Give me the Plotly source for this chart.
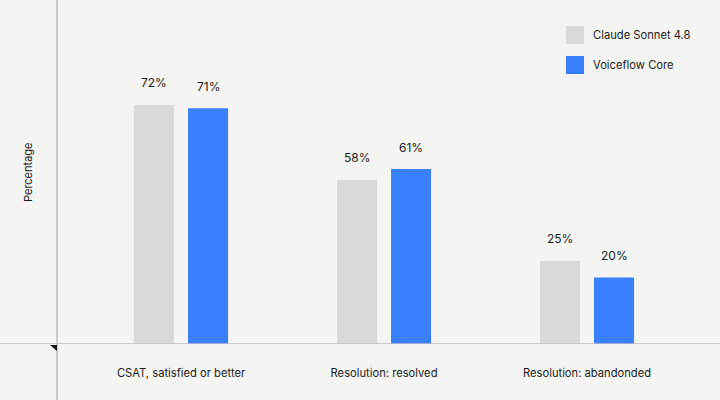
import plotly.graph_objects as go

categories = ["CSAT, satisfied or better", "Resolution: resolved", "Resolution: abandonded"]
series_names = ["Claude Sonnet 4.8", "Voiceflow Core"]
claude_values = [72, 49.4, 25]
voiceflow_values = [71, 52.7, 20]
claude_labels = ["72%", "58%", "25%"]
voiceflow_labels = ["71%", "61%", "20%"]

BG = "#f4f4f2"
GRAY = "#d9d9d9"
BLUE = "#3a7ffd"
LINE = "#bdbdbd"
TEXT = "#1c1c1c"
FONT = "Inter"

W, H = 720, 400
ML, MR, MT, MB = 57, 0, 0, 56
PW, PH = W - ML - MR, H - MT - MB

fig = go.Figure()
series = [(series_names[0], claude_values, claude_labels, GRAY),
          (series_names[1], voiceflow_values, voiceflow_labels, BLUE)]
for name, vals, labs, col in series:
    fig.add_trace(go.Bar(x=categories, y=vals, name=name, marker_color=col,
                         marker_line_width=0, showlegend=False, hoverinfo="skip"))

annotations = []
for (name, vals, labs, col), shift in zip(series, (-27, 27)):
    for c, v, t in zip(categories, vals, labs):
        annotations.append(dict(x=c, y=v, xref="x", yref="y", text=t, showarrow=False,
                                xshift=shift, yshift=22, yanchor="middle",
                                font=dict(family=FONT, size=12, color=TEXT)))
annotations.append(dict(x=-29 / PW, y=0.5, xref="paper", yref="paper", text="Percentage",
                        showarrow=False, textangle=-90, xanchor="center", yanchor="middle",
                        font=dict(family=FONT, size=11, color=TEXT)))

shapes = [
    dict(type="line", xref="paper", yref="y", x0=-ML / PW, x1=1, y0=0, y1=0,
         line=dict(color=LINE, width=1.5), layer="above"),
    dict(type="line", xref="paper", yref="paper", x0=0, x1=0, y0=-MB / PH, y1=1,
         line=dict(color=LINE, width=1.5), layer="above"),
    dict(type="path", xref="paper", yref="paper",
         path=f"M {-7/PW},{-1/PH} L 0,{-1/PH} L 0,{-7/PH} Z",
         fillcolor="#111111", line=dict(width=0), layer="above"),
]

# manual legend (18px swatches, 30px row spacing)
for i, (name, vals, labs, col) in enumerate(series):
    top = 26 + 30 * i
    shapes.append(dict(type="rect", xref="paper", yref="paper",
                       x0=(566 - ML) / PW, x1=(584 - ML) / PW,
                       y0=1 - (top + 18) / PH, y1=1 - top / PH,
                       fillcolor=col, line=dict(width=0)))
    annotations.append(dict(x=(591 - ML) / PW, y=1 - (top + 9) / PH, xref="paper", yref="paper",
                            text=name, showarrow=False, xanchor="left", yanchor="middle",
                            font=dict(family=FONT, size=11.2, color=TEXT)))

fig.update_layout(
    width=W, height=H,
    margin=dict(l=ML, r=MR, t=MT, b=MB),
    paper_bgcolor=BG, plot_bgcolor=BG,
    barmode="group", bargap=0.468, bargroupgap=0.259,
    font=dict(family=FONT, size=12, color=TEXT),
    showlegend=False,
    xaxis=dict(range=[-0.611, 2.655], showgrid=False, zeroline=False, showline=False,
               ticks="outside", ticklen=19, tickcolor="rgba(0,0,0,0)",
               tickfont=dict(family=FONT, size=11.2, color=TEXT)),
    yaxis=dict(range=[0, 103.6], showgrid=False, zeroline=False, showline=False,
               showticklabels=False),
    annotations=annotations,
    shapes=shapes,
)

fig.write_html("out.html", config={"displayModeBar": False},
               post_script="document.body.style.margin='0';")
